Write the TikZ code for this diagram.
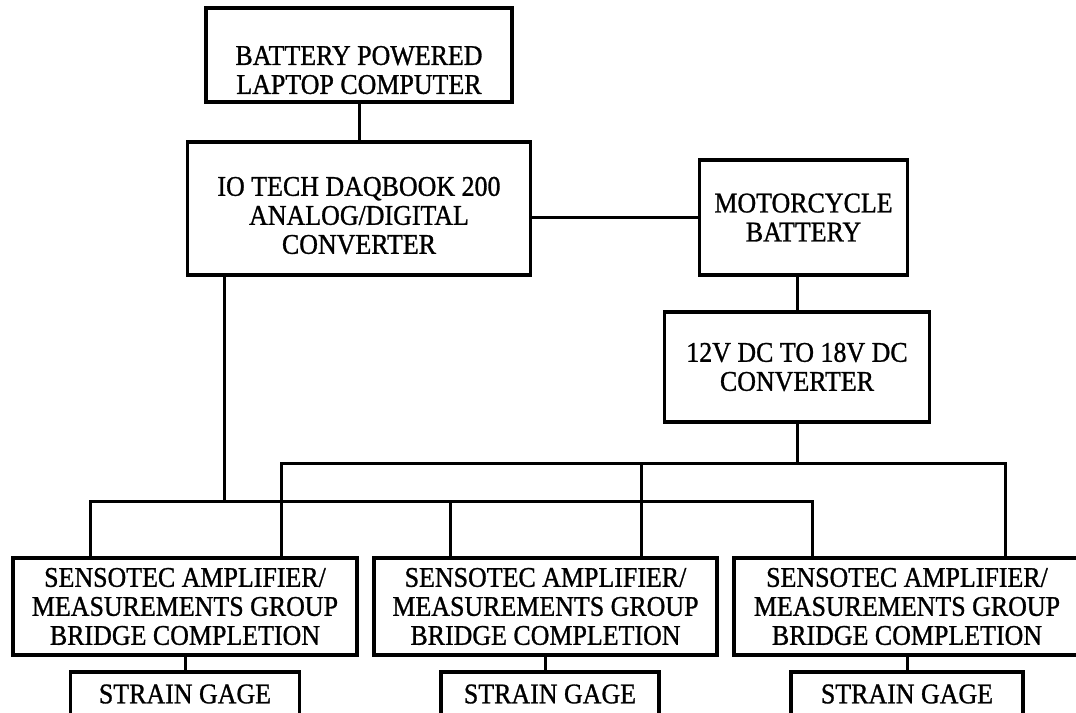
\documentclass[tikz,border=0pt]{standalone}
\usepackage{fontspec}
\setmainfont{Liberation Serif}[FakeBold=1, FakeStretch=0.91]
\usepackage{tikz}
\usetikzlibrary{positioning, calc}

\begin{document}
\begin{tikzpicture}[
  x=1pt, y=-1pt,
  font=\fontsize{28.5}{29}\selectfont,
  box/.style={draw, line width=3.2pt, align=center, inner sep=0pt, outer sep=0pt},
  wire/.style={line width=3pt}
]
\useasboundingbox (0,0) rectangle (1076,712);
% top of the chain
\node[box, minimum width=306pt, minimum height=94pt] (laptop) at (359,55) {\rule{0pt}{49pt}BATTERY POWERED\\LAPTOP COMPUTER};
\node[box, below=40pt of laptop, minimum width=343pt, minimum height=133pt] (daq) {\rule{0pt}{33pt}IO TECH DAQBOOK 200\\ANALOG/DIGITAL\\CONVERTER};
\node[box, right=169pt of daq.south east, anchor=south west, minimum width=208pt, minimum height=115pt] (moto) {MOTORCYCLE\\BATTERY};
\node[box, below=37pt of moto, xshift=-6.5pt, minimum width=265pt, minimum height=110pt] (conv) {12V DC TO 18V DC\\CONVERTER};
% amplifiers and gages
\node[box, minimum width=344pt, minimum height=97pt] (amp1) at (185,606.5) {SENSOTEC AMPLIFIER/\\MEASUREMENTS GROUP\\BRIDGE COMPLETION};
\node[box, right=17pt of amp1, minimum width=343pt, minimum height=97pt] (amp2) {SENSOTEC AMPLIFIER/\\MEASUREMENTS GROUP\\BRIDGE COMPLETION};
\node[box, right=17pt of amp2, minimum width=346pt, minimum height=97pt] (amp3) {SENSOTEC AMPLIFIER/\\MEASUREMENTS GROUP\\BRIDGE COMPLETION};
\node[box, below=17pt of amp1, minimum width=229pt, minimum height=44pt] (gage1) {STRAIN GAGE};
\node[box, below=17pt of amp2, xshift=4.5pt, minimum width=218pt, minimum height=44pt] (gage2) {STRAIN GAGE};
\node[box, below=17pt of amp3, minimum width=232pt, minimum height=44pt] (gage3) {STRAIN GAGE};
% bus points
\coordinate (daqout) at ($(daq.south west)+(37,0)$);
\coordinate (lo1) at ($(amp1.north west)+(77,-57)$);
\coordinate (lo2) at ($(amp2.north west)+(76,-57)$);
\coordinate (lo3) at ($(amp3.north west)+(78,-57)$);
\coordinate (up1) at ($(amp1.north west)+(268,-95)$);
\coordinate (up2) at ($(amp2.north west)+(267,-95)$);
\coordinate (up3) at ($(amp3.north west)+(271,-95)$);
\draw[wire] (laptop) -- (daq);
\draw[wire] (daq.east |- moto.west) -- (moto.west);
\draw[wire] (moto.south -| conv.north) -- (conv.north);
\draw[wire] (conv.south) -- (conv.south |- up1);
\draw[wire] (daqout) -- (daqout |- lo1);
\draw[wire] (lo1 |- amp1.north) -- (lo1) -- (lo3) -- (lo3 |- amp3.north);
\draw[wire] (lo2) -- (lo2 |- amp2.north);
\draw[wire] (up1 |- amp1.north) -- (up1) -- (up3) -- (up3 |- amp3.north);
\draw[wire] (up2) -- (up2 |- amp2.north);
\draw[wire] (amp1.south) -- (gage1.north);
\draw[wire] (amp2.south) -- (amp2.south |- gage2.north);
\draw[wire] (amp3.south) -- (gage3.north);
\end{tikzpicture}
\end{document}
